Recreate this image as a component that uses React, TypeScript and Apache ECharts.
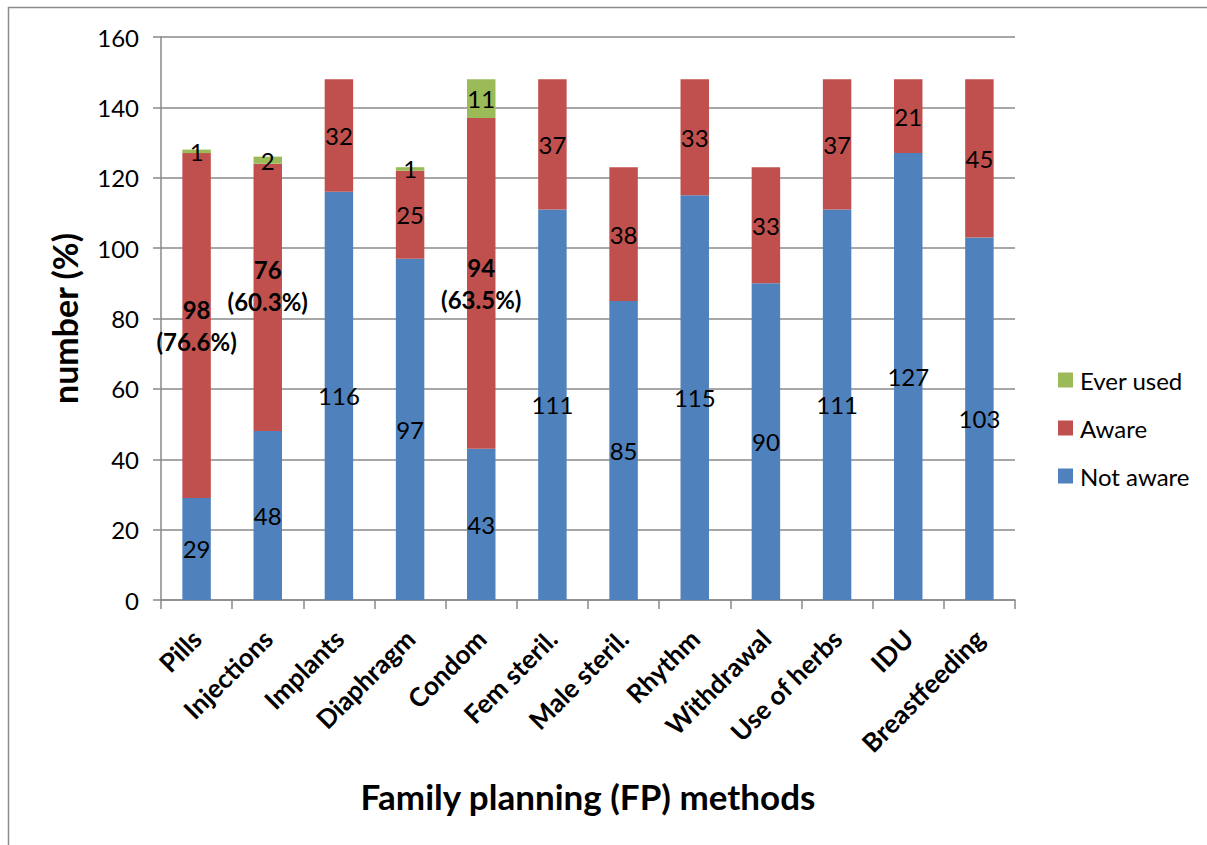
import React, { useEffect, useRef } from "react";
import * as echarts from "echarts";

const categories = [
  "Pills", "Injections", "Implants", "Diaphragm", "Condom", "Fem steril.",
  "Male steril.", "Rhythm", "Withdrawal", "Use of herbs", "IDU", "Breastfeeding",
];
const notAware = [29, 48, 116, 97, 43, 111, 85, 115, 90, 111, 127, 103];
const aware = [98, 76, 32, 25, 94, 37, 38, 33, 33, 37, 21, 45];
const everUsed = [1, 2, 0, 1, 11, 0, 0, 0, 0, 0, 0, 0];
const awarePct = ["76.6%", "60.3%", "", "", "63.5%", "", "", "", "", "", "", ""];
const yTicks = { min: 0, max: 160, interval: 20 };

const FONT = "Lato";
const GRAY = "#8a8a8a";

export default function App() {
  const ref = useRef<HTMLDivElement>(null);
  useEffect(() => {
    if (!ref.current) return;
    const chart = echarts.init(ref.current, null, { renderer: "svg" });
    const labelBase = {
      show: true,
      position: "inside",
      color: "#000",
      fontFamily: FONT,
      fontSize: 24,
    };
    chart.setOption({
      animation: false,
      textStyle: { fontFamily: FONT },
      grid: { left: 161, top: 37, right: 192, bottom: 245, containLabel: false },
      legend: {
        orient: "vertical",
        left: 1053,
        top: 363,
        itemWidth: 15,
        itemHeight: 15,
        itemGap: 24,
        icon: "rect",
        data: ["Ever used", "Aware", "Not aware"],
        textStyle: { fontFamily: FONT, fontSize: 24, color: "#000", lineHeight: 24, padding: [0, 0, 0, 2] },
      },
      xAxis: {
        type: "category",
        data: categories,
        name: "Family planning (FP) methods",
        nameLocation: "middle",
        nameGap: 178,
        nameTextStyle: { fontFamily: FONT, fontSize: 35, fontWeight: "bold", color: "#000" },
        axisLine: { lineStyle: { color: GRAY, width: 1.5 } },
        axisTick: { show: true, length: 9, lineStyle: { color: GRAY, width: 1.5 } },
        axisLabel: {
          rotate: 45,
          margin: 34,
          interval: 0,
          fontFamily: FONT,
          fontSize: 26,
          fontWeight: "bold",
          color: "#000",
        },
      },
      yAxis: {
        type: "value",
        min: yTicks.min,
        max: yTicks.max,
        interval: yTicks.interval,
        name: "number (%)",
        nameLocation: "middle",
        nameGap: 80,
        nameTextStyle: { fontFamily: FONT, fontSize: 34, fontWeight: "bold", color: "#000" },
        axisLine: { show: true, lineStyle: { color: GRAY, width: 1.5 } },
        axisTick: { show: true, inside: false, length: 8, lineStyle: { color: GRAY, width: 1.5 } },
        splitLine: { lineStyle: { color: GRAY, width: 1.5 } },
        axisLabel: { margin: 22, fontFamily: FONT, fontSize: 24, color: "#000" },
      },
      series: [
        {
          name: "Not aware",
          type: "bar",
          stack: "total",
          barWidth: "40%",
          itemStyle: { color: "#4F81BD" },
          label: { ...labelBase },
          data: notAware,
        },
        {
          name: "Aware",
          type: "bar",
          stack: "total",
          barWidth: "40%",
          itemStyle: { color: "#C0504D" },
          label: {
            ...labelBase,
            lineHeight: 30,
            formatter: (p: any) =>
              awarePct[p.dataIndex]
                ? `{b|${p.value}}\n{b|(${awarePct[p.dataIndex]})}`
                : `${p.value}`,
            rich: {
              b: { fontFamily: FONT, fontSize: 24, fontWeight: "bold", color: "#000", lineHeight: 32 },
            },
          },
          data: aware.map((v, i) =>
            i === 1 ? { value: v, label: { offset: [0, -12] } } : v
          ),
        },
        {
          name: "Ever used",
          type: "bar",
          stack: "total",
          barWidth: "40%",
          itemStyle: { color: "#9BBB59" },
          label: {
            ...labelBase,
            formatter: (p: any) => (p.value ? `${p.value}` : ""),
          },
          data: everUsed,
        },
      ],
      graphic: [
        {
          type: "rect",
          shape: { x: 8.5, y: 7.5, width: 1220, height: 860 },
          style: { fill: "none", stroke: "#8c8c8c", lineWidth: 1.5 },
          silent: true,
        },
      ],
    });
    return () => chart.dispose();
  }, []);
  return (
    <div
      ref={ref}
      style={{ position: "fixed", left: 0, top: 0, width: 1207, height: 845, background: "#fff" }}
    />
  );
}
